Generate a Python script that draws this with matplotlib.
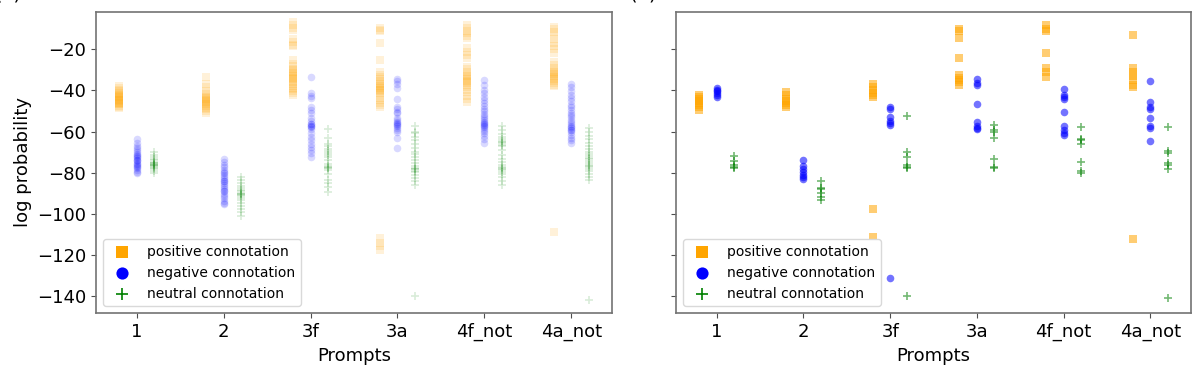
import matplotlib
matplotlib.use("Agg")
import matplotlib.pyplot as plt

prompts = ['1', '2', '3f', '3a', '4f_not', '4a_not']

# panel (a): log probabilities per prompt
pos_a = [
    [-37.8, -38.6, -39.9, -40.4, -41.2, -41.7, -42.3, -42.9, -43.1, -43.8, -44.2, -44.6, -45.3, -45.9, -46.4, -46.8, -47.5, -48.1, -48.7, -42.5, -44.9, -46.1],
    [-33.3, -36.8, -38.5, -40.2, -41.6, -42.4, -43.1, -43.9, -44.5, -45.2, -45.8, -46.3, -47.1, -47.7, -48.4, -49.2, -50.1, -51.0, -44.0, -46.7],
    [-6.8, -8.2, -9.6, -10.5, -14.9, -16.3, -17.8, -18.6, -25.4, -27.1, -28.3, -29.5, -30.2, -31.4, -32.1, -33.0, -33.8, -34.5, -35.3, -36.0, -36.9, -37.7, -38.6, -39.4, -40.5, -41.3, -42.1, -31.0, -34.0],
    [-9.9, -10.8, -11.3, -17.1, -25.2, -30.9, -32.4, -33.6, -34.7, -35.5, -36.2, -37.0, -37.9, -38.8, -39.6, -40.3, -41.5, -42.2, -43.6, -44.8, -46.1, -47.3, -47.9, -111.8, -113.9, -115.6, -117.4, -38.2, -40.0],
    [-8.3, -9.9, -11.0, -12.2, -13.4, -14.6, -19.6, -21.3, -22.8, -24.3, -28.5, -29.8, -31.2, -32.4, -33.5, -34.3, -35.6, -36.4, -37.2, -38.5, -39.7, -41.0, -42.6, -44.1, -45.4, -33.0, -36.0],
    [-9.1, -10.4, -11.7, -13.2, -15.0, -16.8, -18.3, -20.1, -21.9, -26.1, -27.8, -29.0, -30.3, -31.1, -32.0, -32.8, -33.7, -34.6, -35.4, -36.3, -37.2, -38.1, -108.6, -31.5, -34.0],
]
neg_a = [
    [-63.8, -65.5, -67.0, -68.2, -69.1, -70.0, -70.8, -71.5, -72.3, -73.0, -73.6, -74.4, -75.1, -75.8, -76.5, -77.2, -77.9, -78.6, -79.4, -80.2, -72.0, -74.0, -76.0],
    [-73.4, -74.6, -76.1, -77.3, -78.5, -79.4, -80.2, -81.0, -82.1, -83.0, -84.2, -85.1, -85.9, -86.8, -87.7, -88.9, -90.1, -91.3, -92.4, -93.6, -94.8, -95.3, -84.0, -89.0],
    [-33.7, -41.3, -42.5, -43.8, -48.3, -49.6, -50.9, -53.5, -55.0, -56.2, -57.1, -57.8, -58.6, -60.9, -62.4, -64.1, -65.8, -67.4, -69.0, -70.6, -72.3, -56.5, -57.4],
    [-34.6, -35.4, -37.1, -38.9, -44.3, -47.9, -49.2, -50.4, -51.1, -53.5, -54.6, -55.7, -56.4, -57.3, -58.2, -59.1, -60.0, -63.2, -68.1, -55.2, -57.0],
    [-35.1, -37.4, -39.6, -41.2, -43.0, -44.7, -46.1, -47.5, -48.8, -50.0, -51.3, -52.4, -53.6, -54.5, -55.3, -56.2, -57.0, -57.9, -58.8, -59.6, -60.7, -62.1, -63.6, -65.5, -55.8, -57.5],
    [-36.7, -38.4, -40.2, -42.0, -43.6, -45.1, -47.0, -48.3, -49.5, -50.8, -52.1, -53.0, -54.2, -55.5, -56.4, -57.3, -58.5, -59.4, -60.3, -61.6, -62.9, -64.2, -65.6, -58.0, -59.0],
]
neu_a = [
    [-70.0, -71.3, -72.4, -73.2, -73.9, -74.6, -75.1, -75.6, -76.0, -76.4, -76.9, -77.3, -77.8, -78.4, -79.2, -80.1, -75.3, -76.2],
    [-82.1, -83.7, -85.2, -86.5, -87.4, -88.3, -89.0, -89.6, -90.2, -90.8, -91.5, -92.3, -93.4, -94.6, -96.0, -97.5, -99.1, -100.9, -90.5],
    [-58.6, -63.1, -65.8, -67.2, -68.4, -69.6, -70.5, -71.4, -72.2, -73.8, -75.6, -76.7, -77.3, -77.9, -78.5, -80.4, -83.6, -85.1, -87.0, -89.2, -77.6],
    [-57.3, -60.0, -60.9, -62.4, -64.3, -66.1, -68.0, -69.8, -71.0, -72.2, -73.7, -75.4, -76.8, -77.6, -78.3, -79.0, -79.8, -81.1, -82.5, -84.0, -85.9, -139.9, -78.0],
    [-57.4, -59.3, -61.0, -62.6, -63.8, -64.7, -65.5, -66.4, -67.2, -69.0, -71.3, -73.2, -75.0, -76.4, -77.2, -77.9, -78.6, -79.5, -80.7, -82.3, -84.0, -85.8, -65.0, -78.0],
    [-58.4, -60.2, -62.0, -63.7, -65.4, -67.1, -68.5, -69.8, -70.9, -71.8, -72.6, -73.5, -74.4, -75.2, -76.1, -77.0, -78.0, -79.1, -80.4, -81.9, -83.5, -142.0, -76.5],
]

# panel (b)
pos_b = [
    [-42.0, -43.0, -44.2, -45.0, -46.1, -47.0, -48.2, -49.3],
    [-41.0, -42.2, -44.0, -45.1, -46.0, -47.2, -48.0],
    [-37.0, -38.2, -40.0, -41.1, -42.0, -43.0, -97.7, -111.1],
    [-10.3, -11.4, -14.7, -24.4, -32.5, -34.0, -35.2, -36.1, -37.3],
    [-8.2, -10.0, -11.4, -22.0, -29.2, -30.9, -33.3],
    [-13.1, -29.2, -30.9, -33.0, -34.9, -37.3, -38.5, -112.2],
]
neg_b = [
    [-38.6, -39.6, -40.5, -41.4, -42.3, -43.2],
    [-73.6, -76.8, -78.2, -79.8, -81.0, -82.1, -82.8],
    [-48.2, -49.0, -52.8, -54.9, -56.0, -56.8, -131.3],
    [-34.6, -36.5, -37.5, -46.6, -55.2, -57.3, -58.1, -58.9],
    [-39.4, -42.2, -43.3, -44.3, -50.3, -57.1, -59.2, -60.8, -61.6],
    [-35.4, -45.5, -48.2, -49.0, -53.5, -57.3, -58.1, -64.6],
]
neu_b = [
    [-72.0, -74.2, -76.1, -77.0, -77.8],
    [-84.0, -87.2, -88.1, -90.0, -91.9, -93.2],
    [-52.3, -69.7, -72.2, -76.2, -77.0, -77.8, -139.7],
    [-56.8, -59.2, -60.0, -63.0, -73.4, -77.0, -77.8],
    [-57.6, -63.5, -64.3, -66.0, -74.6, -79.1, -80.3],
    [-57.6, -69.4, -70.5, -75.4, -76.4, -78.3, -140.7],
]

plt.rcParams['font.family'] = 'DejaVu Sans'
fig = plt.figure(figsize=(11.96, 3.87), dpi=100)
ax1 = fig.add_axes([0.0803, 0.1912, 0.4314, 0.778])
ax2 = fig.add_axes([0.5652, 0.1912, 0.4306, 0.778], sharey=ax1)


def draw(ax, pos, neg, neu, alpha):
    for i in range(len(prompts)):
        x = i + 1
        ax.scatter([x - 0.2] * len(pos[i]), pos[i], marker='s', s=26, color='orange',
                   alpha=alpha, linewidths=0, label='positive connotation' if i == 0 else None)
        ax.scatter([x] * len(neg[i]), neg[i], marker='o', s=30, color='blue',
                   alpha=alpha, linewidths=0, label='negative connotation' if i == 0 else None)
        ax.scatter([x + 0.2] * len(neu[i]), neu[i], marker='+', s=34, color='green',
                   alpha=alpha, linewidths=1.2, label='neutral connotation' if i == 0 else None)
    ax.set_xticks(range(1, len(prompts) + 1))
    ax.set_xticklabels(prompts)
    ax.set_xlabel('Prompts', fontsize=13)
    ax.tick_params(labelsize=13, color='0.3')
    for sp in ax.spines.values():
        sp.set_color('0.45')
        sp.set_linewidth(1.2)
    leg = ax.legend(loc='lower left', fontsize=10, markerscale=1.6, framealpha=1,
                    edgecolor='0.85')
    for h in leg.legend_handles:
        h.set_alpha(1)


draw(ax1, pos_a, neg_a, neu_a, 0.15)
draw(ax2, pos_b, neg_b, neu_b, 0.55)
ax1.set_ylim(-148.1, -1.9)
ax1.set_ylabel('log probability', fontsize=13)
ax2.tick_params(labelleft=False)

fig.text(0.007, 1 - 3 / 387, '(a)', fontsize=14, ha='center', va='bottom')
fig.text(0.5376, 1 - 3 / 387, '(b)', fontsize=14, ha='center', va='bottom')

fig.savefig('out.png', dpi=100)
